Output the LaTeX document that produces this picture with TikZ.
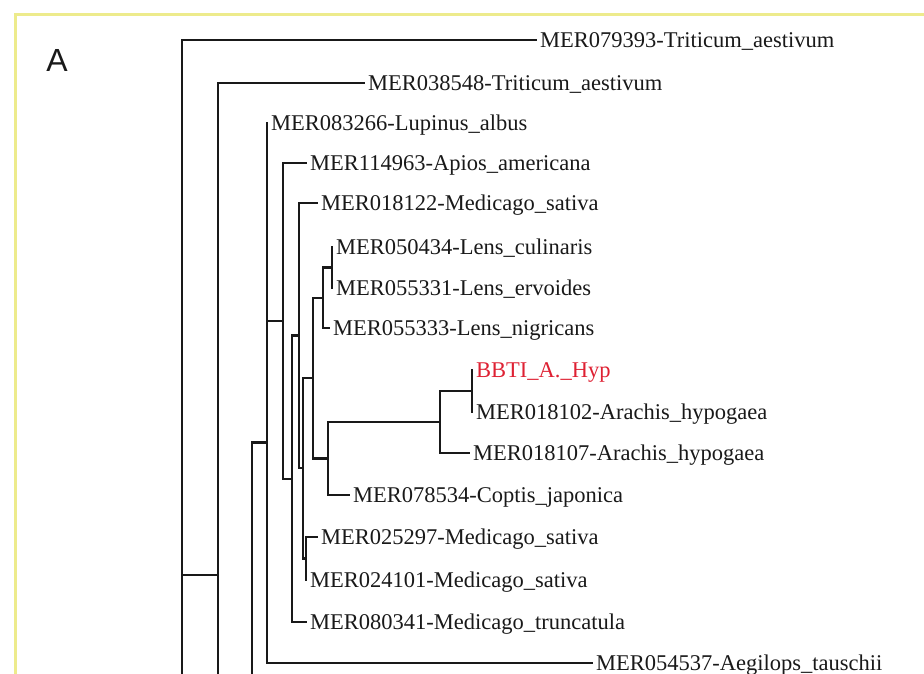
\documentclass[tikz,border=0pt]{standalone}
\usepackage{fontspec}
\setmainfont{Liberation Serif}
\newfontfamily\panelfont{Liberation Sans}
\definecolor{ddeerr}{rgb}{0.87,0.13,0.2}
\definecolor{eeeeoo}{rgb}{0.93,0.92,0.55}
\definecolor{wwwwww}{rgb}{0.1,0.1,0.1}

\begin{document}
\begin{tikzpicture}[line join=miter,x=1pt,y=-1pt,
  every node/.style={inner ysep=0pt,inner xsep=3pt,text height=15pt,text depth=0pt,font=\fontsize{22.5}{24}\selectfont},
  leaf/.style={anchor=west,text=wwwwww},
  branch/.style={line width=2.8pt,color=wwwwww}]
\useasboundingbox (0,0) rectangle (924,674);
\clip (0,0) rectangle (924,674);
\draw[color=eeeeoo,line width=3pt] (15,674) -- (15,15) -- (924,15);
\node[font=\panelfont\fontsize{32}{34}\selectfont,text height=23pt,text=wwwwww] (panelA) at (57,60) {A};
% leaves
\node[leaf] (l1) at (537,40) {MER079393-Triticum\_aestivum};
\node[leaf] (l2) at (365,83) {MER038548-Triticum\_aestivum};
\node[leaf] (l3) at (268,123) {MER083266-Lupinus\_albus};
\node[leaf] (l4) at (307,163) {MER114963-Apios\_americana};
\node[leaf] (l5) at (318,203) {MER018122-Medicago\_sativa};
\node[leaf] (l6) at (333,247) {MER050434-Lens\_culinaris};
\node[leaf] (l7) at (333,288) {MER055331-Lens\_ervoides};
\node[leaf] (l8) at (330,328) {MER055333-Lens\_nigricans};
\node[leaf,text=ddeerr] (l9) at (473,370) {BBTI\_A.\_Hyp};
\node[leaf] (l10) at (473,412) {MER018102-Arachis\_hypogaea};
\node[leaf] (l11) at (470,453) {MER018107-Arachis\_hypogaea};
\node[leaf] (l12) at (350,495) {MER078534-Coptis\_japonica};
\node[leaf] (l13) at (318,537) {MER025297-Medicago\_sativa};
\node[leaf] (l14) at (307,580) {MER024101-Medicago\_sativa};
\node[leaf] (l15) at (307,622) {MER080341-Medicago\_truncatula};
\node[leaf] (l16) at (593,663) {MER054537-Aegilops\_tauschii};
% inner nodes
\coordinate (R0) at (182,700);
\coordinate (R1) at (218,575);
\coordinate (R2) at (252,700);
\coordinate (N1) at (267,442.5);
\coordinate (N1a) at (267,222);
\coordinate (N2) at (283,321);
\coordinate (N3) at (292,479);
\coordinate (N4) at (299,335.5);
\coordinate (N5) at (303,468);
\coordinate (N6) at (313,378);
\coordinate (N7) at (323,298);
\coordinate (N8) at (332,267.5);
\coordinate (N9) at (328,458.5);
\coordinate (N10) at (440,422);
\coordinate (N11) at (472,391);
\coordinate (N12) at (306,558.5);
% branches
\draw[branch] (R0) |- (l1.west);
\draw[branch] (R0) |- (R1);
\draw[branch] (R1) |- (l2.west);
\draw[branch] (R1) |- (R2);
\draw[branch] (R2) |- (N1);
\draw[branch] (N1) |- (N1a);
\draw[branch] (N1) |- (l16.west);
\draw[branch] (N1a) |- (l3.west);
\draw[branch] (N1a) |- (N2);
\draw[branch] (N2) |- (l4.west);
\draw[branch] (N2) |- (N3);
\draw[branch] (N3) |- (N4);
\draw[branch] (N3) |- (l15.west);
\draw[branch] (N4) |- (l5.west);
\draw[branch] (N4) |- (N5);
\draw[branch] (N5) |- (N6);
\draw[branch] (N5) |- (N12);
\draw[branch] (N6) |- (N7);
\draw[branch] (N6) |- (N9);
\draw[branch] (N7) |- (N8);
\draw[branch] (N7) |- (l8.west);
\draw[branch] (N8) |- (l6.west);
\draw[branch] (N8) |- (l7.west);
\draw[branch] (N9) |- (N10);
\draw[branch] (N9) |- (l12.west);
\draw[branch] (N10) |- (N11);
\draw[branch] (N10) |- (l11.west);
\draw[branch] (N11) |- (l9.west);
\draw[branch] (N11) |- (l10.west);
\draw[branch] (N12) |- (l13.west);
\draw[branch] (N12) |- (l14.west);
\end{tikzpicture}
\end{document}
